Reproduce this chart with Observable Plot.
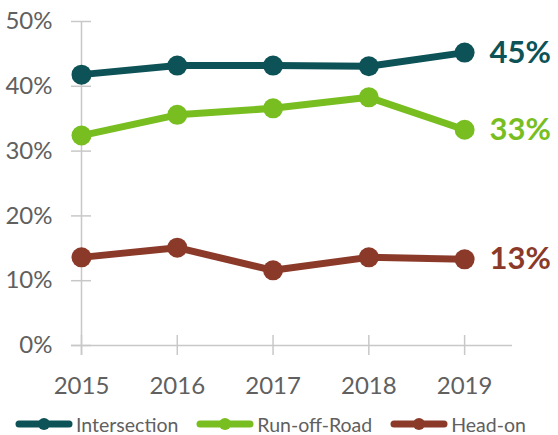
<!DOCTYPE html>
<html><head><meta charset="utf-8">
<script src="https://cdn.jsdelivr.net/npm/d3@7"></script>
<script src="https://cdn.jsdelivr.net/npm/@observablehq/plot@0.6"></script>
<style>
body{margin:0;background:#fff;font-family:Lato,sans-serif;width:558px;height:435px;overflow:hidden}
#legend{display:flex;align-items:center;height:24px;padding-top:12px;padding-left:15px;font-size:19.5px;color:#606060}
#legend .item{display:flex;align-items:center;margin-right:18px}
#legend svg{margin-right:3px}
</style>
</head><body><div id="chart"></div><div id="legend"></div><script>
const years = [2015, 2016, 2017, 2018, 2019];
const seriesNames = ["Intersection", "Run-off-Road", "Head-on"];
const colors = ["#0d5257", "#78be20", "#8b3a2a"];
const intersection = [41.8, 43.2, 43.2, 43.1, 45.2];
const runOffRoad = [32.4, 35.6, 36.6, 38.3, 33.3];
const headOn = [13.6, 15.1, 11.6, 13.6, 13.3];
const endLabels = ["45%", "33%", "13%"];
const yTicks = [0, 10, 20, 30, 40, 50];

const seriesValues = [intersection, runOffRoad, headOn];
const rows = seriesNames.flatMap((s, i) => years.map((yr, j) => ({series: s, year: yr, value: seriesValues[i][j]})));
const lastRows = seriesNames.map((s, i) => ({series: s, year: years[years.length - 1], value: seriesValues[i][years.length - 1], label: endLabels[i]}));

const axisGray = "#c8c8c8";
const textGray = "#606060";

const chart = Plot.plot({
  width: 558, height: 400,
  marginLeft: 81, marginTop: 21, marginBottom: 55, marginRight: 46,
  style: {fontFamily: "Lato, sans-serif", background: "#fff", overflow: "visible"},
  x: {domain: [2015, 2019.5], axis: null, label: null},
  y: {domain: [0, 50], axis: null, label: null},
  color: {domain: seriesNames, range: colors},
  marks: [
    Plot.ruleY([0], {stroke: axisGray, strokeWidth: 1.5, insetLeft: -10}),
    Plot.ruleX([2015], {stroke: axisGray, strokeWidth: 1.5, insetBottom: -10}),
    Plot.axisY({ticks: yTicks, label: null, tickSize: 10, tickPadding: 19, tickFormat: d => d + "%", fontSize: 24, stroke: axisGray, fill: textGray, strokeWidth: 1.5}),
    Plot.axisY({ticks: yTicks, label: null, tickSize: -10, tickFormat: () => "", stroke: axisGray, strokeWidth: 1.5}),
    Plot.axisX({ticks: years, label: null, tickSize: 10, tickPadding: 21, tickFormat: d => String(d), fontSize: 24, stroke: axisGray, fill: textGray, strokeWidth: 1.5}),
    Plot.axisX({ticks: years, label: null, tickSize: -10, tickFormat: () => "", stroke: axisGray, strokeWidth: 1.5}),
    Plot.line(rows, {x: "year", y: "value", z: "series", stroke: "series", strokeWidth: 7}),
    Plot.dot(rows, {x: "year", y: "value", fill: "series", r: 10}),
    Plot.text(lastRows, {x: "year", y: "value", text: "label", fill: "series", dx: 25, textAnchor: "start", fontSize: 31, fontWeight: "bold"})
  ]
});
document.getElementById("chart").appendChild(chart);

const legend = document.getElementById("legend");
seriesNames.forEach((s, i) => {
  const item = document.createElement("div");
  item.className = "item";
  item.innerHTML = `<svg width="58" height="14"><line x1="4" y1="7" x2="54" y2="7" stroke="${colors[i]}" stroke-width="7" stroke-linecap="round"/><circle cx="29" cy="7" r="6" fill="${colors[i]}"/></svg><span>${s}</span>`;
  legend.appendChild(item);
});
</script></body></html>
